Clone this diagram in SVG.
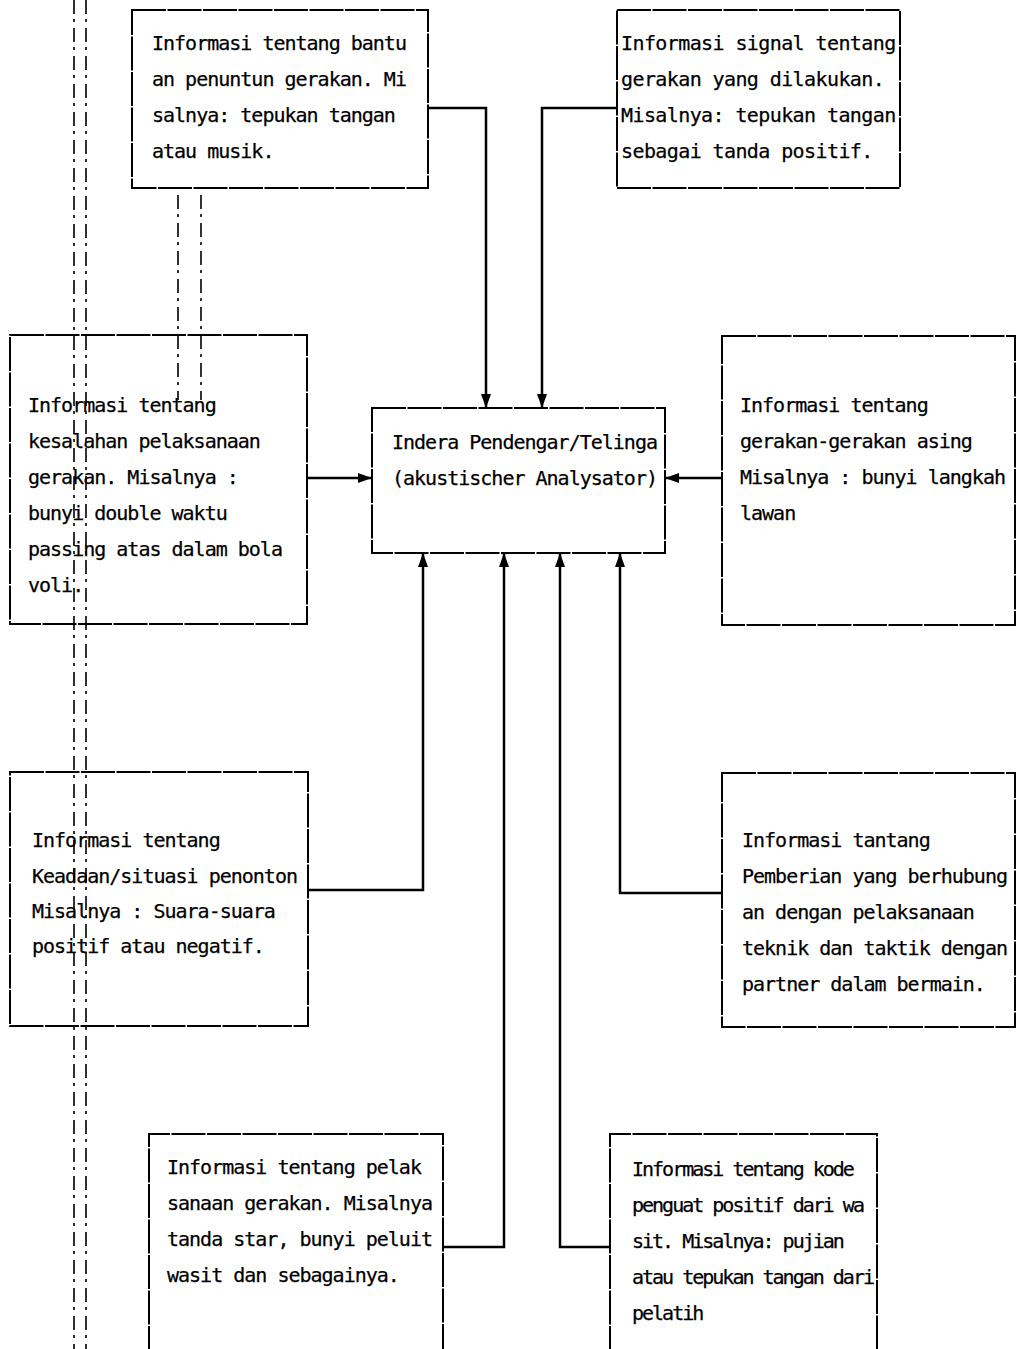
<svg xmlns="http://www.w3.org/2000/svg" width="1019" height="1349" viewBox="0 0 1019 1349">
  <style>
    .box { fill: none; stroke: #000; stroke-width: 2; stroke-dasharray: 34 1.5; }
    .lbl { font-family: "DejaVu Sans Mono", "Liberation Mono", monospace; font-size: 20px; letter-spacing: -1px; fill: #000; stroke: #000; stroke-width: 0.25; }
    .narrow { letter-spacing: -2px; }
    .wide { letter-spacing: -0.6px; }
    .wire { fill: none; stroke: #000; stroke-width: 2.5; }
    .fold { fill: none; stroke: #000; stroke-width: 1.6; stroke-dasharray: 14 5 3 6; }
  </style>
  <defs>
    <marker id="head" viewBox="0 0 14 10" refX="14" refY="5" markerWidth="14" markerHeight="10" markerUnits="userSpaceOnUse" orient="auto">
      <path d="M0,0 L14,5 L0,10 Z" fill="#000"/>
    </marker>
  </defs>
  <rect width="1019" height="1349" fill="#fff"/>

  <!-- paper fold lines along the left margin -->
  <g id="fold-lines">
    <line class="fold" x1="74" y1="0" x2="74" y2="1349"/>
    <line class="fold" x1="86" y1="0" x2="86" y2="1349"/>
    <line class="fold" x1="178" y1="195" x2="178" y2="400"/>
    <line class="fold" x1="201" y1="195" x2="201" y2="400"/>
  </g>

  <!-- connectors -->
  <g id="connectors">
    <polyline class="wire" points="428,108 486,108 486,408" marker-end="url(#head)"/>
    <polyline class="wire" points="617,108 542,108 542,408" marker-end="url(#head)"/>
    <polyline class="wire" points="307,478 372,478" marker-end="url(#head)"/>
    <polyline class="wire" points="722,478 665,478" marker-end="url(#head)"/>
    <polyline class="wire" points="308,890 423,890 423,553" marker-end="url(#head)"/>
    <polyline class="wire" points="722,893 620,893 620,553" marker-end="url(#head)"/>
    <polyline class="wire" points="443,1247 504,1247 504,553" marker-end="url(#head)"/>
    <polyline class="wire" points="610,1247 560,1247 560,553" marker-end="url(#head)"/>
  </g>

  <g id="center">
    <rect class="box" x="372" y="408" width="293" height="145"/>
    <text class="lbl" x="392" y="449">Indera Pendengar/Telinga</text>
    <text class="lbl" x="392" y="485">(akustischer Analysator)</text>
  </g>

  <g id="top-left">
    <rect class="box" x="132" y="10" width="296" height="178"/>
    <text class="lbl" x="152" y="50">Informasi tentang bantu</text>
    <text class="lbl" x="152" y="86">an penuntun gerakan. Mi</text>
    <text class="lbl" x="152" y="122">salnya: tepukan tangan</text>
    <text class="lbl" x="152" y="158">atau musik.</text>
  </g>

  <g id="top-right">
    <rect class="box" x="617" y="10" width="283" height="178"/>
    <text class="lbl wide" x="621" y="50">Informasi signal tentang</text>
    <text class="lbl wide" x="621" y="86">gerakan yang dilakukan.</text>
    <text class="lbl wide" x="621" y="122">Misalnya: tepukan tangan</text>
    <text class="lbl wide" x="621" y="158">sebagai tanda positif.</text>
  </g>

  <g id="mid-left">
    <rect class="box" x="10" y="335" width="297" height="289"/>
    <text class="lbl" x="28" y="412">Informasi tentang</text>
    <text class="lbl" x="28" y="448">kesalahan pelaksanaan</text>
    <text class="lbl" x="28" y="484">gerakan. Misalnya :</text>
    <text class="lbl" x="28" y="520">bunyi double waktu</text>
    <text class="lbl" x="28" y="556">passing atas dalam bola</text>
    <text class="lbl" x="28" y="592">voli.</text>
  </g>

  <g id="mid-right">
    <rect class="box" x="722" y="336" width="293" height="289"/>
    <text class="lbl" x="740" y="412">Informasi tentang</text>
    <text class="lbl" x="740" y="448">gerakan-gerakan asing</text>
    <text class="lbl" x="740" y="484">Misalnya : bunyi langkah</text>
    <text class="lbl" x="740" y="520">lawan</text>
  </g>

  <g id="low-left">
    <rect class="box" x="10" y="772" width="298" height="254"/>
    <text class="lbl" x="32" y="847">Informasi tentang</text>
    <text class="lbl" x="32" y="883">Keadaan/situasi penonton</text>
    <text class="lbl" x="32" y="918">Misalnya : Suara-suara</text>
    <text class="lbl" x="32" y="953">positif atau negatif.</text>
  </g>

  <g id="low-right">
    <rect class="box" x="722" y="773" width="293" height="254"/>
    <text class="lbl" x="742" y="847">Informasi tantang</text>
    <text class="lbl" x="742" y="883">Pemberian yang berhubung</text>
    <text class="lbl" x="742" y="919">an dengan pelaksanaan</text>
    <text class="lbl" x="742" y="955">teknik dan taktik dengan</text>
    <text class="lbl" x="742" y="991">partner dalam bermain.</text>
  </g>

  <g id="bottom-left">
    <path class="box" d="M149,1360 V1134 H443 V1360"/>
    <text class="lbl" x="167" y="1174">Informasi tentang pelak</text>
    <text class="lbl" x="167" y="1210">sanaan gerakan. Misalnya</text>
    <text class="lbl" x="167" y="1246">tanda star, bunyi peluit</text>
    <text class="lbl" x="167" y="1282">wasit dan sebagainya.</text>
  </g>

  <g id="bottom-right">
    <path class="box" d="M610,1360 V1134 H877 V1360"/>
    <text class="lbl narrow" x="632" y="1176">Informasi tentang kode</text>
    <text class="lbl narrow" x="632" y="1212">penguat positif dari wa</text>
    <text class="lbl narrow" x="632" y="1248">sit. Misalnya: pujian</text>
    <text class="lbl narrow" x="632" y="1284">atau tepukan tangan dari</text>
    <text class="lbl narrow" x="632" y="1320">pelatih</text>
  </g>
</svg>
